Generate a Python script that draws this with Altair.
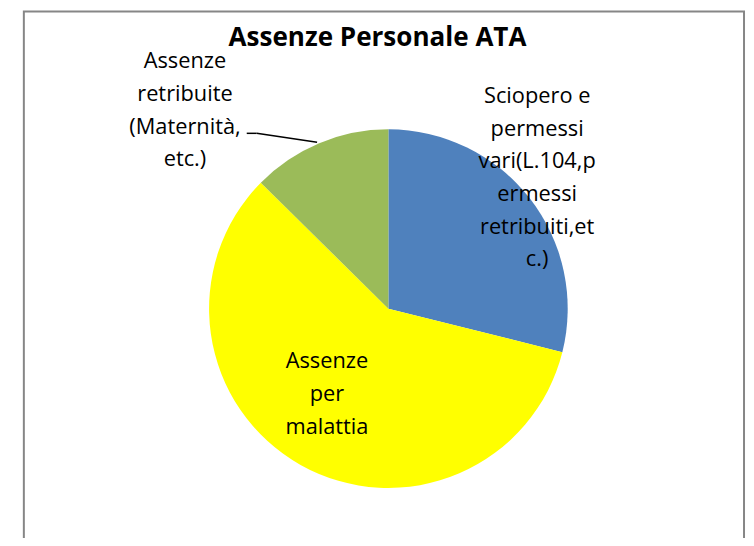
import altair as alt
import pandas as pd

# ---- data ----
categories = [
    "Sciopero e permessi vari",
    "Assenze per malattia",
    "Assenze retribuite",
]
labels = [
    "Sciopero e\npermessi\nvari(L.104,p\nermessi\nretribuiti,et\nc.)",
    "Assenze\nper\nmalattia",
    "Assenze\nretribuite\n(Maternità,\netc.)",
]
values = [28.9, 58.5, 12.6]
order = [0, 1, 2]
colors = ["#4F81BD", "#FFFF00", "#9BBB59"]
title_text = "Assenze Personale ATA"

df = pd.DataFrame({"cat": categories, "label": labels, "value": values, "idx": order})

FONT = "Open Sans"
CX, CY, R = 384, 301, 181

base = alt.Chart(df).encode(
    theta=alt.Theta("value:Q", stack=True),
    order=alt.Order("idx:Q"),
    x=alt.value(CX),
    y=alt.value(CY),
)

pie = base.mark_arc(outerRadius=R, stroke=None).encode(
    color=alt.Color("cat:N", scale=alt.Scale(domain=categories, range=colors), legend=None)
)


def label_layer(cat, radius, dx, dy):
    return base.mark_text(
        radius=radius, dx=dx, dy=dy, font=FONT, fontSize=22, lineHeight=33,
        lineBreak="\n", align="center", baseline="middle", color="black",
    ).encode(
        text=alt.condition(f"datum.cat == '{cat}'", alt.Text("label:N"), alt.value(""))
    )


lab1 = label_layer(categories[0], 188, 2, -99)
lab2 = label_layer(categories[1], 100, -13, -34)
lab3 = label_layer(categories[2], 211, -124, -55)

one = alt.Data(values=[{}])

title = alt.Chart(one).mark_text(
    font=FONT, fontSize=26.3, fontWeight="bold", align="center", baseline="alphabetic", color="black"
).encode(x=alt.value(373), y=alt.value(36), text=alt.value(title_text))

leader1 = alt.Chart(one).mark_rule(color="black", strokeWidth=1.5).encode(
    x=alt.value(241), x2=alt.value(251), y=alt.value(124), y2=alt.value(124)
)
leader2 = alt.Chart(one).mark_rule(color="black", strokeWidth=1.5).encode(
    x=alt.value(251), x2=alt.value(312), y=alt.value(124), y2=alt.value(133)
)

frame = alt.Chart(one).mark_rect(filled=False, stroke="#868686", strokeWidth=2).encode(
    x=alt.value(16), x2=alt.value(743), y=alt.value(1), y2=alt.value(700)
)

chart = alt.layer(frame, pie, lab1, lab2, lab3, leader1, leader2, title).properties(
    width=745, height=530, autosize=alt.AutoSizeParams(type="none"), padding=0,
    background="white",
).configure_view(stroke=None)

chart.save("out.html", embed_options={"renderer": "svg", "actions": False})
